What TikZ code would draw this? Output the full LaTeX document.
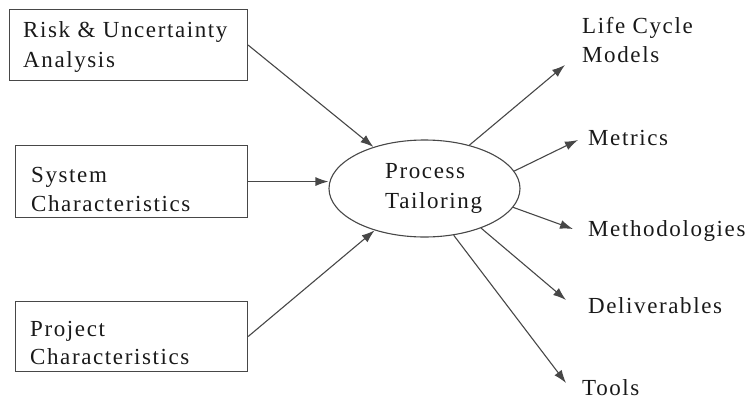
\documentclass[tikz,border=0pt]{standalone}
\usepackage{fontspec}
\setmainfont{Liberation Serif}[LetterSpace=7]
\usetikzlibrary{shapes.geometric,arrows.meta}
\begin{document}
\begin{tikzpicture}[x=1pt,y=-1pt,
  ink/.style={draw=black!72,line width=1.1pt},
  inbox/.style={ink,rectangle,inner sep=0pt,anchor=north west},
  lbl/.style={anchor=base west,inner sep=0pt,text=black!90,font=\fontsize{23}{29}\selectfont},
  flow/.style={black!72,line width=1.1pt,-{Latex[length=13pt,width=9pt]}}]
\useasboundingbox (0,0) rectangle (756,399);

% input boxes
\node[inbox,minimum width=238pt,minimum height=71pt] (risk) at (9,9) {};
\node[inbox,minimum width=232pt,minimum height=72pt] (sys) at (15,145) {};
\node[inbox,minimum width=232pt,minimum height=70pt] (proj) at (15,301) {};

\node[lbl] (riskA) at (23,37) {Risk \& Uncertainty};
\node[lbl] (riskB) at (23,67) {Analysis};
\node[lbl] (sysA) at (31,182) {System};
\node[lbl] (sysB) at (31,211) {Characteristics};
\node[lbl] (projA) at (30,336) {Project};
\node[lbl] (projB) at (30,364) {Characteristics};

% central process
\node[ink,ellipse,minimum width=191pt,minimum height=97pt,inner sep=0pt] (pt) at (424.5,188.5) {};
\node[lbl] (ptA) at (385,178) {Process};
\node[lbl] (ptB) at (385,208) {Tailoring};

% outputs
\node[lbl] (lcA) at (582,33) {Life Cycle};
\node[lbl] (lcB) at (582,62) {Models};
\node[lbl] (met) at (588,145) {Metrics};
\node[lbl] (meth) at (588,236) {Methodologies};
\node[lbl] (del) at (588,313) {Deliverables};
\node[lbl] (tools) at (582,395) {Tools};

\coordinate (eLC) at (565,65);
\coordinate (eMet) at (578,140);
\coordinate (eMeth) at (573,229);
\coordinate (eDel) at (566,300);
\coordinate (eTools) at (566,383);

% connectors
\draw[flow] (risk.east) -- (pt);
\draw[flow] (sys.east) -- (sys.east -| pt.west);
\draw[flow] (proj.east) -- (pt);

\draw[flow] (pt.44) -- (eLC);
\draw[flow] (pt.11) -- (eMet);
\draw[flow] (pt.-12) -- (eMeth);
\draw[flow] (pt.-35) -- (eDel);
\draw[flow] (pt.-58) -- (eTools);
\end{tikzpicture}
\end{document}
